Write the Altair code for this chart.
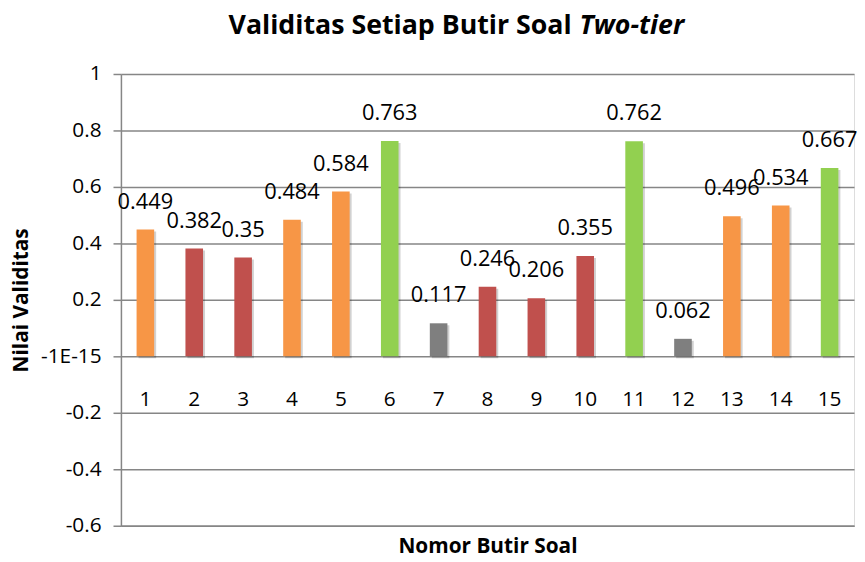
import altair as alt
import pandas as pd

butir = [str(i) for i in range(1, 16)]
nilai = [0.449, 0.382, 0.35, 0.484, 0.584, 0.763, 0.117, 0.246, 0.206, 0.355,
         0.762, 0.062, 0.496, 0.534, 0.667]
kategori = ["Sedang", "Rendah", "Rendah", "Sedang", "Sedang", "Tinggi", "Sangat Rendah",
            "Rendah", "Rendah", "Rendah", "Tinggi", "Sangat Rendah", "Sedang", "Sedang", "Tinggi"]
y_ticks = [-0.6, -0.4, -0.2, 0, 0.2, 0.4, 0.6, 0.8, 1]

kat_domain = ["Tinggi", "Sedang", "Rendah", "Sangat Rendah"]
kat_colors = ["#92D050", "#F79646", "#C0504D", "#7F7F7F"]

df = pd.DataFrame({"butir": butir, "nilai": nilai, "kategori": kategori})

FONT = "Open Sans"
W, H = 740, 456

x_enc = alt.X("butir:N", sort=butir,
              scale=alt.Scale(paddingInner=0.64, paddingOuter=0.32),
              axis=alt.Axis(title="Nomor Butir Soal", labels=False, ticks=False,
                            domainColor="#868686", domainWidth=1.5,
                            titleFont=FONT, titleFontSize=21, titleFontWeight="bold",
                            titleColor="#000000", titleY=21, titleBaseline="middle"))
y_scale = alt.Scale(domain=[-0.6, 1], nice=False, zero=False)
y_enc = alt.Y("nilai:Q", scale=y_scale,
              axis=alt.Axis(title="Nilai Validitas", values=y_ticks,
                            labelExpr="datum.value === 0 ? '-1E-15' : '' + datum.value",
                            grid=True, gridColor="#868686", gridWidth=1.5,
                            domainColor="#868686", domainWidth=1.5,
                            tickColor="#868686", tickSize=8, tickWidth=1.5,
                            labelFont=FONT, labelFontSize=21, labelColor="#000000",
                            labelPadding=12,
                            titleFont=FONT, titleFontSize=21, titleFontWeight="bold",
                            titleColor="#000000", titleX=-100, titleY=228,
                            titleAlign="center", titleBaseline="middle"))

base = alt.Chart(df)

shadow = base.mark_bar(color="#000000", opacity=0.18, xOffset=2, yOffset=2).encode(
    x=x_enc, y=y_enc)

bars = base.mark_bar().encode(
    x=x_enc, y=y_enc,
    color=alt.Color("kategori:N", scale=alt.Scale(domain=kat_domain, range=kat_colors),
                    legend=None))

labels = base.mark_text(font=FONT, fontSize=22, baseline="middle", dy=-28,
                        color="#000000").encode(
    x=alt.X("butir:N", sort=butir), y=alt.Y("nilai:Q"),
    text=alt.Text("nilai:Q", format=".3~f"))

cat_labels = base.mark_text(font=FONT, fontSize=21, baseline="middle",
                            color="#000000").encode(
    x=alt.X("butir:N", sort=butir), y=alt.value(329), text="butir:N")

title_df = pd.DataFrame({"a": ["Validitas Setiap Butir Soal"], "b": ["Two-tier"]})
title1 = alt.Chart(title_df).mark_text(font=FONT, fontSize=27, fontWeight="bold",
                                       align="right", baseline="alphabetic",
                                       color="#000000").encode(
    x=alt.value(455), y=alt.value(-40), text="a:N")
title2 = alt.Chart(title_df).mark_text(font=FONT, fontSize=27, fontWeight="bold",
                                       fontStyle="italic", align="left",
                                       baseline="alphabetic", color="#000000").encode(
    x=alt.value(463), y=alt.value(-40), text="b:N")

chart = alt.layer(shadow, bars, labels, cat_labels, title1, title2).properties(
    width=W, height=H,
    autosize=alt.AutoSizeParams(type="none"),
    padding={"left": 114, "top": 64, "right": 3, "bottom": 34},
).configure_view(stroke=None).configure(background="#ffffff")

chart.save("out.html", embed_options={"renderer": "svg", "actions": False})
